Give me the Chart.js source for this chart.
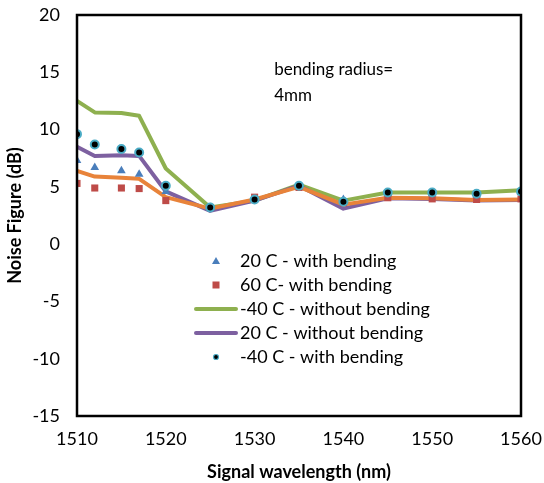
<!DOCTYPE html>
<html>
<head>
<meta charset="utf-8">
<script src="https://cdn.jsdelivr.net/npm/chart.js@4.4.0/dist/chart.umd.min.js"></script>
<style>
  html, body { margin: 0; padding: 0; background: #fff; }
  #wrap { width: 544px; height: 483px; }
</style>
</head>
<body>
<div id="wrap"><canvas id="chart" width="544" height="483"></canvas></div>
<script>
// wavelengths (nm)
const wavelengths = [1510, 1512, 1515, 1517, 1520, 1525, 1530, 1535, 1540, 1545, 1550, 1555, 1560];

// noise figure values (dB)
const nfMinus40WithBending = [9.6, 8.7, 8.3, 8.0, 5.1, 3.2, 3.9, 5.1, 3.7, 4.5, 4.5, 4.4, 4.6];
const nf20WithBending      = [7.3, 6.7, 6.4, 6.1, 4.6, 3.2, 3.9, 5.0, 3.9, 4.4, 4.4, 4.3, 4.5];
const nf60WithBending      = [5.3, 4.9, 4.9, 4.85, 3.8, 3.2, 4.1, 4.95, 3.6, 4.05, 3.95, 3.9, 3.95];
const nfMinus40NoBending   = [12.5, 11.5, 11.45, 11.2, 6.6, 3.2, 3.8, 5.2, 3.8, 4.5, 4.5, 4.5, 4.7];
const nf20NoBending        = [8.5, 7.7, 7.75, 7.7, 4.6, 2.9, 3.8, 5.1, 3.1, 4.0, 3.95, 3.8, 3.85];
const nf60NoBending        = [6.4, 5.9, 5.8, 5.7, 4.1, 3.1, 3.9, 5.0, 3.45, 4.05, 4.0, 3.85, 3.9];

const yTicks = [-15, -10, -5, 0, 5, 10, 15, 20];
const xTicks = [1510, 1520, 1530, 1540, 1550, 1560];

const FONT = "Lato, 'Open Sans', sans-serif";

function pts(values) {
  return wavelengths.map((w, i) => ({ x: w, y: values[i] }));
}

// dataset index 0 is drawn on top
const datasets = [
  {
    label: "-40 C - with bending",
    data: pts(nfMinus40WithBending),
    showLine: false,
    pointStyle: "circle",
    pointRadius: 4,
    pointBackgroundColor: "#000",
    pointBorderColor: "#4BACC6",
    pointBorderWidth: 2
  },
  {
    label: "60 C- with bending",
    data: pts(nf60WithBending),
    showLine: false,
    pointStyle: "rect",
    pointRadius: 5,
    pointBackgroundColor: "#BE4B48",
    pointBorderColor: "#BE4B48",
    pointBorderWidth: 0
  },
  {
    label: "20 C - with bending",
    data: pts(nf20WithBending),
    showLine: false,
    pointStyle: "triangle",
    pointRadius: 5,
    pointBackgroundColor: "#4A7EBB",
    pointBorderColor: "#4A7EBB",
    pointBorderWidth: 0
  },
  {
    label: "60 C - without bending",
    data: pts(nf60NoBending),
    borderColor: "#E8833A",
    borderWidth: 4,
    pointRadius: 0
  },
  {
    label: "20 C - without bending",
    data: pts(nf20NoBending),
    borderColor: "#7D60A0",
    borderWidth: 4,
    pointRadius: 0
  },
  {
    label: "-40 C - without bending",
    data: pts(nfMinus40NoBending),
    borderColor: "#8EB04F",
    borderWidth: 4,
    pointRadius: 0
  }
];

// the orange series has no legend entry in the original
const legendOrder = ["20 C - with bending", "60 C- with bending", "-40 C - without bending", "20 C - without bending", "-40 C - with bending"];

// frame, note and legend inside the plot
const extras = {
  id: "extras",
  afterDatasetsDraw(chart) {
    const ctx = chart.ctx;
    const a = chart.chartArea;
    const xs = chart.scales.x, ys = chart.scales.y;
    ctx.save();
    ctx.strokeStyle = "#000";
    ctx.lineWidth = 2.5;
    ctx.strokeRect(a.left, a.top, a.right - a.left, a.bottom - a.top);

    ctx.fillStyle = "#000";
    ctx.font = "17px " + FONT;
    ctx.textBaseline = "middle";
    ctx.textAlign = "left";
    const nx = xs.getPixelForValue(1532.2);
    const ny = ys.getPixelForValue(15.2);
    ctx.fillText("bending radius=", nx, ny);
    ctx.fillText("4mm", nx, ny + 26);

    // legend
    ctx.font = "18px " + FONT;
    const lx = a.left + 163;
    let ly = a.top + 246;
    legendOrder.forEach(name => {
      const ds = chart.data.datasets.find(d => d.label === name);
      const cx = lx - 24;
      if (ds.showLine === false) {
        ctx.fillStyle = ds.pointBackgroundColor;
        if (ds.pointStyle === "triangle") {
          ctx.beginPath();
          ctx.moveTo(cx, ly - 4);
          ctx.lineTo(cx + 4, ly + 3);
          ctx.lineTo(cx - 4, ly + 3);
          ctx.closePath();
          ctx.fill();
        } else if (ds.pointStyle === "rect") {
          ctx.fillRect(cx - 3.5, ly - 3.5, 7, 7);
        } else {
          ctx.beginPath();
          ctx.arc(cx, ly, 2.5, 0, Math.PI * 2);
          ctx.fillStyle = "#000";
          ctx.fill();
          ctx.lineWidth = 1.2;
          ctx.strokeStyle = ds.pointBorderColor;
          ctx.stroke();
        }
      } else {
        ctx.strokeStyle = ds.borderColor;
        ctx.lineWidth = 4;
        ctx.lineCap = "round";
        ctx.beginPath();
        ctx.moveTo(lx - 44, ly);
        ctx.lineTo(lx - 4, ly);
        ctx.stroke();
      }
      ctx.fillStyle = "#000";
      ctx.fillText(name, lx, ly);
      ly += 24;
    });
    ctx.restore();
  }
};

new Chart(document.getElementById("chart"), {
  type: "line",
  data: { datasets: datasets },
  options: {
    responsive: false,
    animation: false,
    layout: { padding: { top: 15, right: 23, left: 0, bottom: 0 } },
    plugins: {
      legend: { display: false },
      tooltip: { enabled: false }
    },
    elements: { line: { tension: 0, borderJoinStyle: "round", borderCapStyle: "round" } },
    scales: {
      x: {
        type: "linear",
        min: 1510,
        max: 1560,
        afterBuildTicks: s => { s.ticks = xTicks.map(v => ({ value: v })); },
        afterFit: s => { s.height = 67; },
        grid: { display: true, drawOnChartArea: false, color: "rgba(0,0,0,0)", tickLength: 12 },
        border: { display: false },
        ticks: { color: "#000", font: { family: FONT, size: 18 }, padding: 0, maxRotation: 0, callback: v => String(v) },
        title: { display: true, text: "Signal wavelength (nm)", color: "#000", font: { family: FONT, size: 18, weight: "bold" }, padding: { top: 0, bottom: 0 } }
      },
      y: {
        min: -15,
        max: 20,
        afterBuildTicks: s => { s.ticks = yTicks.map(v => ({ value: v })); },
        afterFit: s => { s.width = 77; },
        grid: { display: true, drawOnChartArea: false, color: "rgba(0,0,0,0)", tickLength: 17 },
        border: { display: false },
        ticks: { color: "#000", font: { family: FONT, size: 18 }, padding: 0, callback: v => String(v) },
        title: { display: true, text: "Noise Figure (dB)", color: "#000", font: { family: FONT, size: 18, weight: "bold" }, padding: { bottom: 0 } }
      }
    }
  },
  plugins: [extras]
});
</script>
</body>
</html>
